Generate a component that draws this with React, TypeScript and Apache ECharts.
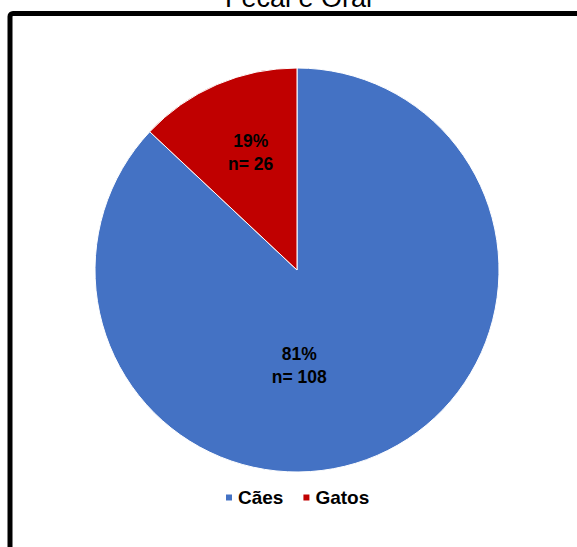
import React, { useEffect, useRef } from "react";
import * as echarts from "echarts";

const titleText = "Fecal e Oral";
const categories = ["Cães", "Gatos"];
const counts = [108, 26];
const percentLabels = ["81%", "19%"];
// slice sizes as drawn in the picture (share of the circle, %)
const sliceShares = [87, 13];
const colors = ["#4472C4", "#C00000"];

export default function App() {
  const ref = useRef<HTMLDivElement>(null);
  useEffect(() => {
    if (!ref.current) return;
    const chart = echarts.init(ref.current, null, { renderer: "svg" });
    const labelOffsets = [
      [-39, 0],
      [-5, -22],
    ];
    chart.setOption({
      animation: false,
      title: {
        text: titleText,
        left: 220,
        top: -21,
        textStyle: { fontFamily: "Liberation Sans, Arial", fontSize: 27, fontWeight: "normal", color: "#000" },
      },
      graphic: [
        {
          type: "rect",
          shape: { x: 10, y: 13.5, width: 620, height: 600, r: 3 },
          style: { fill: "none", stroke: "#000", lineWidth: 5 },
          z: 10,
        },
      ],
      legend: {
        data: categories,
        top: 483,
        left: 219,
        icon: "rect",
        itemWidth: 8,
        itemHeight: 8,
        itemGap: 18,
        textStyle: { fontFamily: "Liberation Sans, Arial", fontSize: 19, fontWeight: "bold", color: "#000" },
      },
      series: [
        {
          type: "pie",
          center: [297, 270],
          radius: 202,
          startAngle: 90,
          clockwise: true,
          label: {
            show: true,
            position: "inside",
            fontFamily: "Liberation Sans, Arial",
            fontSize: 17.5,
            fontWeight: "bold",
            color: "#000",
            lineHeight: 23,
          },
          labelLine: { show: false },
          itemStyle: { borderColor: "#fff", borderWidth: 1 },
          emphasis: { disabled: true },
          data: categories.map((c, i) => ({
            name: c,
            value: sliceShares[i],
            itemStyle: { color: colors[i] },
            label: {
              formatter: `${percentLabels[i]}\nn= ${counts[i]}`,
              offset: labelOffsets[i],
            },
          })),
        },
      ],
    });
    return () => chart.dispose();
  }, []);
  return (
    <div
      ref={ref}
      style={{ position: "absolute", left: 0, top: 0, width: 577, height: 547, background: "#fff" }}
    />
  );
}
